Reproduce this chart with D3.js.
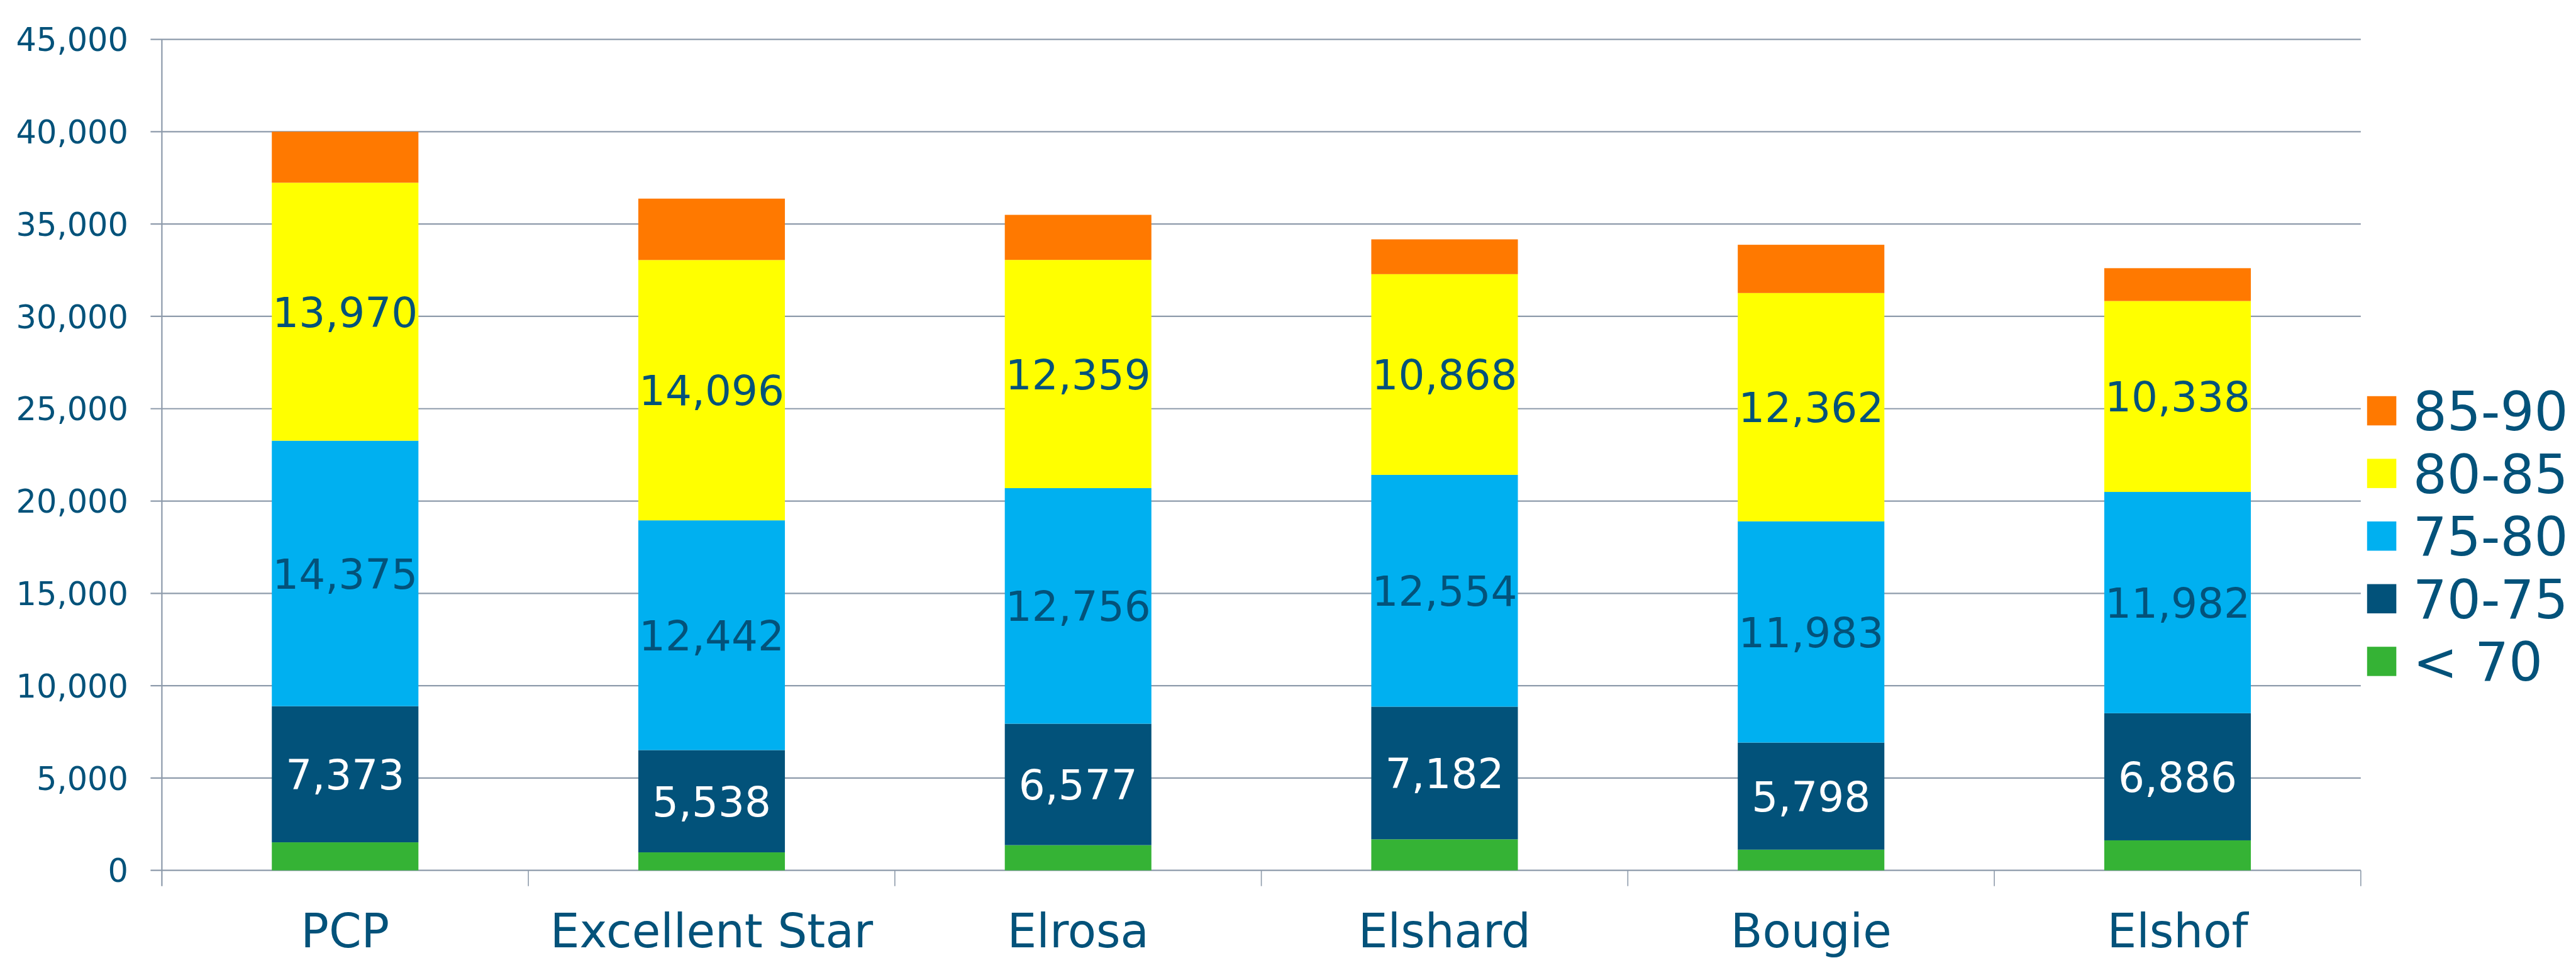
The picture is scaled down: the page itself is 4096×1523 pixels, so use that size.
<!DOCTYPE html>
<html>
<head>
<meta charset="utf-8">
<script src="https://cdn.jsdelivr.net/npm/d3@7"></script>
<style>
  html, body { margin: 0; padding: 0; background: #ffffff; }
  svg { display: block; }
</style>
</head>
<body>
<script>
// ---- Data ----
const categories = ["PCP", "Excellent Star", "Elrosa", "Elshard", "Bougie", "Elshof"];
const seriesNames = ["< 70", "70-75", "75-80", "80-85", "85-90"];
const lt70   = [1520, 976, 1366, 1683, 1122, 1626];
const s70_75 = [7373, 5538, 6577, 7182, 5798, 6886];
const s75_80 = [14375, 12442, 12756, 12554, 11983, 11982];
const s80_85 = [13970, 14096, 12359, 10868, 12362, 10338];
const s85_90 = [2762, 3325, 2440, 1884, 2613, 1778];
const yTicks = [0, 5000, 10000, 15000, 20000, 25000, 30000, 35000, 40000, 45000];
const labelledSeries = ["70-75", "75-80", "80-85"];

// ---- Layout ----
const W = 4096, H = 1523;
const colors = {
  "< 70": "#35B335",
  "70-75": "#02527A",
  "75-80": "#00B0F0",
  "80-85": "#FFFF00",
  "85-90": "#FF7900"
};
const labelColors = { "70-75": "#ffffff", "75-80": "#03527A", "80-85": "#03527A" };
const textColor = "#03527A";
const gridColor = "#8E9BAB";
const font = "'DejaVu Sans', Verdana, sans-serif";

const plotLeft = 257.4, plotRight = 3753.8, plotTop = 62.6, plotBottom = 1383.7;

const svg = d3.select("body").append("svg").attr("width", W).attr("height", H);

const x = d3.scaleBand().domain(categories).range([plotLeft, plotRight])
  .paddingInner(0.6).paddingOuter(0.3);
const y = d3.scaleLinear().domain([0, 45000]).range([plotBottom, plotTop]);

const valuesBySeries = { "< 70": lt70, "70-75": s70_75, "75-80": s75_80, "80-85": s80_85, "85-90": s85_90 };
const rows = categories.map((c, i) => {
  const r = { cat: c };
  seriesNames.forEach(s => r[s] = valuesBySeries[s][i]);
  return r;
});
const stacked = d3.stack().keys(seriesNames)(rows);

// gridlines
const g = svg.append("g");
g.selectAll("line.grid").data(yTicks).join("line")
  .attr("x1", plotLeft - 18).attr("x2", plotRight)
  .attr("y1", d => y(d)).attr("y2", d => y(d))
  .attr("stroke", gridColor).attr("stroke-width", 2.2);

// y axis line
g.append("line")
  .attr("x1", plotLeft).attr("x2", plotLeft)
  .attr("y1", y(45000)).attr("y2", plotBottom + 25)
  .attr("stroke", gridColor).attr("stroke-width", 2.2);

// category boundary ticks
const step = x.step();
const bounds = d3.range(categories.length + 1).map(i => plotLeft + i * step);
g.selectAll("line.ctick").data(bounds.slice(1)).join("line")
  .attr("x1", d => d).attr("x2", d => d)
  .attr("y1", plotBottom).attr("y2", plotBottom + 25)
  .attr("stroke", gridColor).attr("stroke-width", 1.6);

// y tick labels
const fmt = d3.format(",");
svg.append("g").selectAll("text").data(yTicks).join("text")
  .attr("x", 204).attr("y", d => y(d) + 0.3645 * 51)
  .attr("text-anchor", "end")
  .attr("font-family", font).attr("font-size", 51)
  .attr("fill", textColor)
  .text(d => fmt(d));

// bars
const bars = svg.append("g");
stacked.forEach(layer => {
  bars.selectAll(null).data(layer).join("rect")
    .attr("x", d => x(d.data.cat))
    .attr("width", x.bandwidth())
    .attr("y", d => y(d[1]))
    .attr("height", d => y(d[0]) - y(d[1]))
    .attr("fill", colors[layer.key]);
});

// data labels
const lab = svg.append("g");
stacked.filter(l => labelledSeries.includes(l.key)).forEach(l => {
  lab.selectAll(null).data(l).join("text")
    .attr("x", d => x(d.data.cat) + x.bandwidth() / 2)
    .attr("y", d => y((d[0] + d[1]) / 2) + 0.3645 * 66)
    .attr("text-anchor", "middle")
    .attr("font-family", font).attr("font-size", 66)
    .attr("fill", labelColors[l.key])
    .text(d => fmt(d.data[l.key]));
});

// category labels
svg.append("g").selectAll("text").data(categories).join("text")
  .attr("x", d => x(d) + x.bandwidth() / 2)
  .attr("y", 1506)
  .attr("text-anchor", "middle")
  .attr("font-family", font).attr("font-size", 74)
  .attr("fill", textColor)
  .text(d => d);

// legend
const legendOrder = seriesNames.slice().reverse();
const leg = svg.append("g");
legendOrder.forEach((s, i) => {
  const top = 629.8 + i * 99.6;
  leg.append("rect")
    .attr("x", 3763.8).attr("y", top)
    .attr("width", 46.5).attr("height", 46.5)
    .attr("fill", colors[s]);
  leg.append("text")
    .attr("x", 3836.7).attr("y", top + 23.25 + 0.3645 * 85)
    .attr("font-family", font).attr("font-size", 85)
    .attr("fill", textColor)
    .text(s);
});
</script>
</body>
</html>
